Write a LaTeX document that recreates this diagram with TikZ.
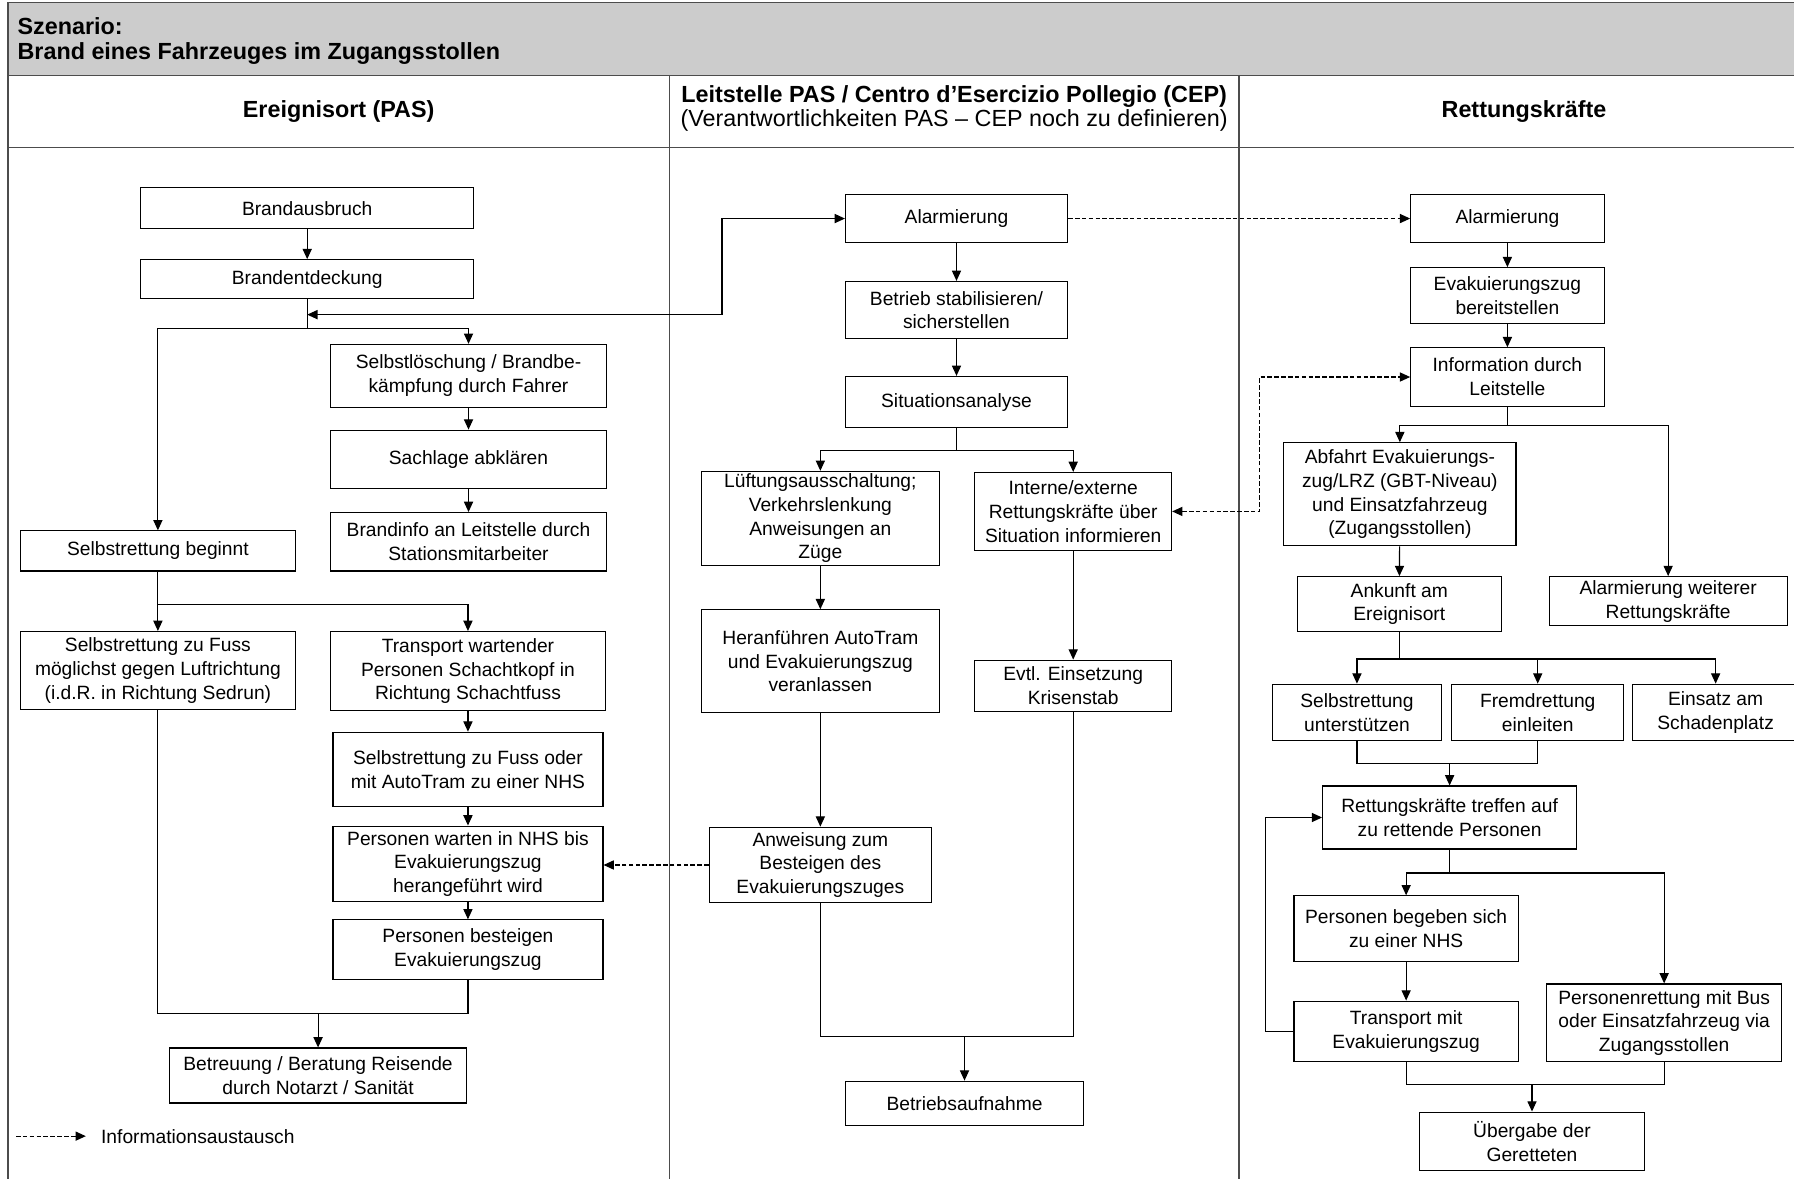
\documentclass[tikz,border=0pt]{standalone}
\usepackage{fontspec}
\setmainfont{Liberation Sans}
\usetikzlibrary{arrows.meta}
% flow box given by its corners (x1,y1) and (x2,y2)
\newcommand{\fb}[6]{%
  \node[fbox, minimum width={(#4-#2)*0.5pt}, minimum height={(#5-#3)*0.5pt}]
    (#1) at ({(#2+#4)/2},{(#3+#5)/2}) {#6};}
\begin{document}
\begin{tikzpicture}[x=0.5pt, y=-0.5pt,
  >={Triangle[length=4.5pt,width=4pt]},
  fbox/.style={draw, line width=0.5pt, align=center, inner sep=0pt,
    font=\fontsize{8.4}{10.4}\selectfont},
  link/.style={line width=0.5pt},
  flow/.style={link, ->},
  info/.style={link, ->, dash pattern=on 2pt off 1pt},
  infoboth/.style={link, <->, dash pattern=on 2pt off 1pt},
  frame/.style={line width=0.6pt, draw=black!70},
  head/.style={font=\fontsize{10.2}{11}\selectfont\bfseries, inner sep=0pt}]

\useasboundingbox (0,0) rectangle (1568,1030);

% title band and swimlane frame
\fill[gray!40] (7,2) rectangle (1574,66);
\draw[frame] (7,1034) -- (7,2) -- (1574,2);
\draw[frame] (7,66) -- (1574,66);
\draw[frame] (7,129) -- (1574,129);
\draw[frame] (585,66) -- (585,1034);
\draw[frame] (1083,66) -- (1083,1034);

\node[head, anchor=base west] (t1) at (15,30) {Szenario:};
\node[head, anchor=base west] (t2) at (15,52) {Brand eines Fahrzeuges im Zugangsstollen};

\node[head] (h1) at (296,97.5) {Ereignisort (PAS)};
\node[head, align=center, font=\fontsize{10.2}{10.5}\selectfont] (h2) at (834,95)
  {{\bfseries Leitstelle PAS / Centro d’Esercizio Pollegio (CEP)}\\(Verantwortlichkeiten PAS – CEP noch zu definieren)};
\node[head] (h3) at (1332,97.5) {Rettungskräfte};

% ---- Ereignisort (PAS)
\fb{ausbruch}{123}{164}{414}{200}{Brandausbruch}
\fb{entdeckung}{123}{227}{414}{261}{Brandentdeckung}
\fb{loesch}{289}{301}{530}{356}{Selbstlöschung / Brandbe-\\kämpfung durch Fahrer}
\fb{sachlage}{289}{376}{530}{427}{Sachlage abklären}
\fb{brandinfo}{289}{448}{530}{499}{Brandinfo an Leitstelle durch\\Stationsmitarbeiter}
\fb{beginnt}{18}{464}{258}{499}{Selbstrettung beginnt}
\fb{fuss}{18}{552}{258}{620}{Selbstrettung zu Fuss\\möglichst gegen Luftrichtung\\(i.d.R. in Richtung Sedrun)}
\fb{transp}{289}{552}{529}{621}{Transport wartender\\Personen Schachtkopf in\\Richtung Schachtfuss}
\fb{nhs}{291}{640}{527}{705}{Selbstrettung zu Fuss oder\\mit AutoTram zu einer NHS}
\fb{warten}{291}{722}{527}{788}{Personen warten in NHS bis\\Evakuierungszug\\herangeführt wird}
\fb{besteigen}{291}{804}{527}{856}{Personen besteigen\\Evakuierungszug}
\fb{betreuung}{148}{916}{408}{964}{Betreuung / Beratung Reisende\\durch Notarzt / Sanität}

% ---- Leitstelle
\fb{alarmL}{739}{170}{933}{212}{Alarmierung}
\fb{stabil}{739}{246}{933}{296}{Betrieb stabilisieren/\\sicherstellen}
\fb{analyse}{739}{329}{933}{374}{Situationsanalyse}
\fb{lueft}{613}{412}{821}{494}{Lüftungsausschaltung;\\Verkehrslenkung\\Anweisungen an\\Züge}
\fb{interne}{852}{413}{1024}{481}{Interne/externe\\Rettungskräfte über\\Situation informieren}
\fb{heran}{613}{533}{821}{623}{Heranführen AutoTram\\und Evakuierungszug\\veranlassen}
\fb{krisen}{852}{577}{1024}{622}{Evtl. Einsetzung\\Krisenstab}
\fb{anweis}{620}{723}{814}{789}{Anweisung zum\\Besteigen des\\Evakuierungszuges}
\fb{aufnahme}{739}{945}{947}{984}{Betriebsaufnahme}

% ---- Rettungskräfte
\fb{alarmR}{1233}{170}{1402}{212}{Alarmierung}
\fb{bereit}{1233}{234}{1402}{283}{Evakuierungszug\\bereitstellen}
\fb{infoL}{1233}{304}{1402}{355}{Information durch\\Leitstelle}
\fb{abfahrt}{1122}{387}{1325}{477}{Abfahrt Evakuierungs-\\zug/LRZ (GBT-Niveau)\\und Einsatzfahrzeug\\(Zugangsstollen)}
\fb{ankunft}{1134}{504}{1312}{552}{Ankunft am\\Ereignisort}
\fb{weitere}{1354}{504}{1562}{547}{Alarmierung weiterer\\Rettungskräfte}
\fb{su}{1112}{598}{1260}{647}{Selbstrettung\\unterstützen}
\fb{fr}{1269}{598}{1419}{647}{Fremdrettung\\einleiten}
\fb{ei}{1427}{598}{1572}{647}{Einsatz am\\Schadenplatz}
\fb{treffen}{1156}{687}{1378}{742}{Rettungskräfte treffen auf\\zu rettende Personen}
\fb{begeben}{1131}{783}{1327}{840}{Personen begeben sich\\zu einer NHS}
\fb{trans2}{1131}{875}{1327}{928}{Transport mit\\Evakuierungszug}
\fb{bus}{1352}{860}{1557}{928}{Personenrettung mit Bus\\oder Einsatzfahrzeug via\\Zugangsstollen}
\fb{uebergabe}{1241}{972}{1437}{1023}{Übergabe der\\Geretteten}

% ---- connectors, Ereignisort
\coordinate (s1) at (268.5,287);
\coordinate (j1) at (268.5,275);
\coordinate (k1) at (631,275);
\draw[flow] (ausbruch) -- (entdeckung);
\draw[link] (entdeckung.south) -- (s1);
\draw[flow] (s1) -| (loesch.north);
\draw[flow] (s1) -| (beginnt.north);
\draw[link, <->] (j1) -- (k1) |- (alarmL.west);
\draw[flow] (loesch) -- (sachlage);
\draw[flow] (sachlage) -- (brandinfo);
\coordinate (s2) at (138,528);
\draw[link] (beginnt.south) -- (s2);
\draw[flow] (s2) -| (fuss.north);
\draw[flow] (s2) -| (transp.north);
\draw[flow] (transp) -- (nhs);
\draw[flow] (nhs) -- (warten);
\draw[flow] (warten) -- (besteigen);
\coordinate (s3) at (278,886);
\draw[link] (fuss.south) |- (s3) -| (besteigen.south);
\draw[flow] (s3) -- (betreuung.north);

% legend
\coordinate (lg1) at (14,993);
\coordinate (lg2) at (75,993);
\draw[info] (lg1) -- (lg2);
\node[anchor=west, inner sep=0pt, font=\fontsize{8.4}{10.4}\selectfont] (lgt) at (88,993) {Informationsaustausch};

% ---- connectors, Leitstelle
\draw[flow] (alarmL) -- (stabil);
\draw[flow] (stabil) -- (analyse);
\coordinate (s4) at (836,394);
\draw[link] (analyse.south) -- (s4);
\draw[flow] (s4) -| (lueft.north);
\draw[flow] (s4) -| (interne.north);
\draw[flow] (lueft) -- (heran);
\draw[flow] (heran) -- (anweis);
\draw[flow] (interne) -- (krisen);
\coordinate (s5) at (843,906);
\draw[link] (anweis.south) |- (s5) -| (krisen.south);
\draw[flow] (s5) -- (aufnahme.north);
\draw[info] (anweis.west) -- (anweis.west -| warten.east);
\draw[info] (alarmL.east) -- (alarmR.west);
\coordinate (k2) at (1101,447);
\draw[infoboth] (interne.east) -- (k2) |- (infoL.west);

% ---- connectors, Rettungskräfte
\draw[flow] (alarmR) -- (bereit);
\draw[flow] (bereit) -- (infoL);
\coordinate (s6) at (1317.5,372);
\draw[link] (infoL.south) -- (s6);
\draw[flow] (s6) -| (abfahrt.north);
\draw[flow] (s6) -| (weitere.north);
\draw[flow] (abfahrt) -- (ankunft);
\coordinate (s7) at (1223,576);
\draw[link] (ankunft.south) -- (s7);
\draw[flow] (s7) -| (su.north);
\draw[flow] (s7) -| (fr.north);
\draw[flow] (s7) -| (ei.north);
\coordinate (s8) at (1267,667);
\draw[link] (su.south) |- (s8) -| (fr.south);
\draw[flow] (s8) -- (treffen.north);
\coordinate (s9) at (1267,763);
\draw[link] (treffen.south) -- (s9);
\draw[flow] (s9) -| (begeben.north);
\draw[flow] (s9) -| (bus.north);
\draw[flow] (begeben) -- (trans2);
\coordinate (k3) at (1106,901.5);
\draw[flow] (trans2.west) -- (k3) |- (treffen.west);
\coordinate (s10) at (1339,948);
\draw[link] (trans2.south) |- (s10) -| (bus.south);
\draw[flow] (s10) -- (uebergabe.north);
\end{tikzpicture}
\end{document}
